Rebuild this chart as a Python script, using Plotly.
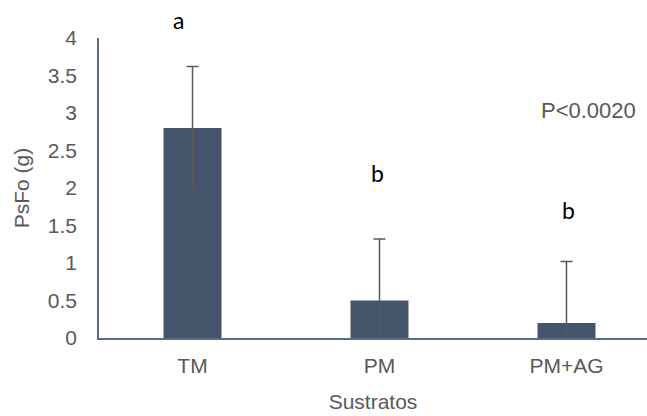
import plotly.graph_objects as go

categories = ["TM", "PM", "PM+AG"]
values = [2.8, 0.5, 0.2]
errors_plus = [0.82, 0.82, 0.82]
errors_minus = [0.82, 0.5, 0.2]
letters = ["a", "b", "b"]
letter_x = [-0.075, 0.99, 2.01]
letter_y = [1.06, 0.55, 0.427]
y_ticks = [0, 0.5, 1, 1.5, 2, 2.5, 3, 3.5, 4]
y_tick_text = ["0", "0.5", "1", "1.5", "2", "2.5", "3", "3.5", "4"]

bar_color = "#44546A"
text_gray = "#595959"
fnt = "Liberation Sans, Arial, sans-serif"

fig = go.Figure()
fig.add_trace(go.Bar(
    x=categories, y=values, width=0.31,
    marker=dict(color=bar_color, line=dict(width=0)),
    error_y=dict(type="data", symmetric=False, array=errors_plus,
                 arrayminus=errors_minus, color="#595959", thickness=1.5, width=6),
    cliponaxis=False,
))

for lx, l, ly in zip(letter_x, letters, letter_y):
    fig.add_annotation(x=lx, y=ly, text=l, showarrow=False, xref="x", yref="paper",
                       yanchor="middle", xanchor="center",
                       font=dict(family="Lato, Calibri, sans-serif", size=23, color="black"))

fig.add_annotation(x=2.12, y=3.04, text="P<0.0020", showarrow=False, xref="x", yref="y",
                   font=dict(family=fnt, size=22, color=text_gray))

fig.update_layout(
    width=647, height=416,
    margin=dict(l=99, r=0, t=38, b=78),
    plot_bgcolor="white", paper_bgcolor="white",
    showlegend=False,
    font=dict(family=fnt, color=text_gray, size=21),
    xaxis=dict(showline=True, linecolor="#5B6B84", linewidth=1.5,
               showgrid=False, ticks="", ticklabelstandoff=8,
               title=dict(text="Sustratos", standoff=18, font=dict(size=21, color=text_gray)),
               tickfont=dict(size=21, color=text_gray)),
    yaxis=dict(range=[0, 4], tickvals=y_ticks, ticktext=y_tick_text, showline=True,
               linecolor="#5B6B84", linewidth=1.5, showgrid=False, zeroline=False, ticks="",
               ticklabelstandoff=16,
               title=dict(text="PsFo (g)", standoff=12, font=dict(size=21, color=text_gray)),
               tickfont=dict(size=21, color=text_gray)),
)

# the reference's category bands are ~187px wide and the last band runs past the right edge
plot_w = 647 - 99
band_px = 187.0
fig.update_xaxes(range=[-0.5, -0.5 + plot_w / band_px])

fig.write_html("out.html", config={"displayModeBar": False},
               post_script="document.body.style.margin='0';document.body.style.overflow='hidden';")
